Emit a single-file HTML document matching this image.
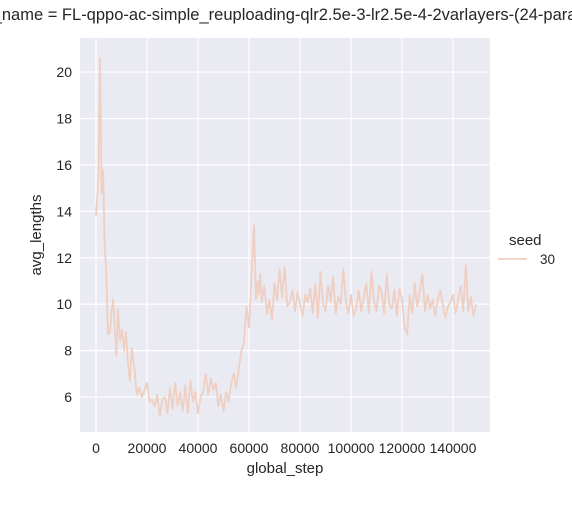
<!DOCTYPE html>
<html><head><meta charset="utf-8"><style>
body{margin:0;background:#fff;font-family:"Liberation Sans",Arial,sans-serif}
svg text{font-family:"Liberation Sans",Arial,sans-serif;fill:#262626}
</style></head><body>
<svg id="c" width="572" height="500"></svg>
<script>
const steps=[0,1000,1600,2200,2800,3400,4000,4700,5500,6000,6700,7300,8000,8600,9400,10200,11000,11800,12500,13300,14000,15000,16000,17000,18000,19000,20000,21000,22000,23000,24000,25000,26000,27000,28000,29000,30000,31000,32000,33000,34000,35000,36000,37000,38000,39000,40000,41000,42000,43000,44000,45000,46000,47000,48000,49000,50000,51000,52000,53000,54000,55000,56000,57000,58000,59000,60000,61000,62000,62700,63300,63800,64400,65000,66000,67000,68000,69000,70000,71000,72000,73000,74000,75000,76000,77000,78000,79000,80000,81000,82000,83000,84000,85000,86000,87000,88000,89000,90000,91000,92000,93000,94000,95000,96000,97000,98000,99000,100000,101000,102000,103000,104000,105000,106000,107000,108000,109000,110000,111000,112000,113000,114000,115000,116000,117000,118000,119000,120000,121000,122000,123000,124000,125000,126000,127000,128000,129000,130000,131000,132000,133000,134000,135000,136000,137000,138000,139000,140000,141000,142000,143000,144000,145000,146000,147000,148000,149000,150000];
const lengths=[13.8,15.5,20.6,14.8,15.8,12.5,11.5,8.7,8.8,9.6,10.2,9.1,7.8,9.8,8.4,8.9,8.0,8.8,7.5,6.7,8.1,7.3,6.1,6.4,6.0,6.3,6.6,5.8,5.9,5.6,6.1,5.2,5.9,6.0,5.3,6.4,5.5,6.6,5.6,6.2,5.4,6.5,5.3,6.7,5.8,6.2,5.3,6.0,6.2,7.0,6.1,6.8,6.3,6.6,5.6,6.1,5.4,6.2,5.8,6.6,7.0,6.4,7.2,8.0,8.3,9.9,9.0,11.3,13.4,10.2,11.0,10.4,11.3,10.1,10.8,9.6,10.2,9.3,10.9,10.2,11.5,10.3,11.6,9.9,10.1,10.6,9.7,10.5,10.0,9.5,10.4,10.1,10.7,9.6,10.9,9.4,11.4,10.0,9.7,10.8,10.1,11.2,9.6,10.3,10.0,11.5,10.1,9.6,10.4,9.5,9.8,10.6,9.7,10.3,10.9,9.6,11.4,10.1,9.7,10.8,10.5,9.6,11.3,10.0,9.8,10.6,9.5,10.7,10.2,9.0,8.7,10.4,9.6,10.9,9.9,10.6,11.3,9.7,10.4,9.8,10.2,9.5,10.2,10.6,10.0,9.4,9.9,10.1,10.4,9.6,10.2,10.8,9.7,11.7,9.7,10.3,9.5,10.0];
const xTicks=[0,20000,40000,60000,80000,100000,120000,140000];
const yTicks=[6,8,10,12,14,16,18,20];
const L=80,R=490,T=38,B=432;
const X=v=>96+v*(51/20000);
const Y=v=>304.2-(v-10)*23.214;
const s=document.getElementById('c');const NS='http://www.w3.org/2000/svg';
function mk(t,a,p){const e=document.createElementNS(NS,t);for(const k in a)e.setAttribute(k,a[k]);(p||s).appendChild(e);return e;}
const bg=mk('rect',{x:L,y:T,width:R-L,height:B-T,fill:'#eaeaf2'});


xTicks.forEach(v=>{const g=mk('line',{x1:X(v),x2:X(v),y1:T,y2:B,stroke:'#fff','stroke-width':1.2});


const t=mk('text',{x:X(v),y:B+21,'text-anchor':'middle','font-size':14});t.textContent=v;

});
yTicks.forEach(v=>{const g=mk('line',{x1:L,x2:R,y1:Y(v),y2:Y(v),stroke:'#fff','stroke-width':1.2});


const t=mk('text',{x:L-8,y:Y(v)+5,'text-anchor':'end','font-size':14});t.textContent=v;

});
const n=Math.min(steps.length,lengths.length);
let d='';for(let i=0;i<n;i++)d+=(i?'L':'M')+X(steps[i]).toFixed(1)+','+Y(lengths[i]).toFixed(1);
const ln=mk('path',{d:d,fill:'none',stroke:'#efcfc2','stroke-width':1.8,'stroke-linejoin':'round'});


const tt=mk('text',{x:285,y:20,'text-anchor':'middle','font-size':16.5});tt.textContent='exp_name = FL-qppo-ac-simple_reuploading-qlr2.5e-3-lr2.5e-4-2varlayers-(24-params)';


const xt=mk('text',{x:285,y:473,'text-anchor':'middle','font-size':15});xt.textContent='global_step';


const yt=mk('text',{x:0,y:0,'text-anchor':'middle','font-size':15,transform:'translate(41,235) rotate(-90)'});yt.textContent='avg_lengths';


const lt=mk('text',{x:509,y:245,'font-size':15});lt.textContent='seed';


const ll=mk('line',{x1:498,x2:527,y1:259,y2:259,stroke:'#efcfc2','stroke-width':1.8});


const lv=mk('text',{x:540,y:264,'font-size':13.5});lv.textContent='30';


</script>
</body></html>
